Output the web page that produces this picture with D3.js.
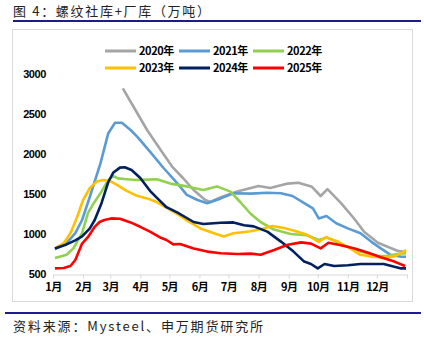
<!DOCTYPE html>
<html>
<head>
<meta charset="utf-8">
<script src="https://cdn.jsdelivr.net/npm/d3@7"></script>
<style>
  body { margin: 0; background: #fff; }
  svg { display: block; }
</style>
</head>
<body>
<svg width="424" height="337"></svg>
<script>
// weekly readings, dates as month-day
const dates2020 = ["03-14","03-27","04-08","04-22","05-04","05-15","05-26","06-07","06-12","06-23","07-10","07-24","08-01","08-13","08-31","09-11","09-25","10-04","10-11","10-25","11-07","11-18","12-02","12-12","12-22","12-31"];
const vals2020 = [2820,2550,2300,2050,1840,1700,1550,1425,1400,1460,1530,1575,1600,1575,1630,1640,1590,1475,1560,1385,1200,1025,890,840,790,775];

const dates2021 = ["01-03","01-15","01-24","01-31","02-08","02-19","02-27","03-06","03-13","03-22","03-29","04-11","04-25","05-09","05-19","05-30","06-09","06-23","07-06","07-24","08-10","08-24","09-05","09-17","09-26","10-02","10-10","10-20","11-01","11-14","11-25","12-05","12-15","12-26","12-31"];
const vals2021 = [810,885,1010,1175,1466,1885,2260,2390,2390,2300,2215,2030,1825,1635,1490,1425,1385,1445,1510,1505,1515,1510,1475,1385,1320,1195,1225,1135,1070,1010,905,820,740,715,715];

const dates2022 = ["01-03","01-15","01-22","01-31","02-06","02-12","02-20","02-27","03-04","03-09","03-18","03-28","04-08","04-18","05-02","05-19","06-05","06-19","07-03","07-13","07-24","08-03","08-16","09-03","09-20","10-02","10-11","10-28","11-14","12-02","12-12","12-22","12-31"];
const vals2022 = [700,740,820,1010,1260,1385,1530,1675,1725,1695,1685,1675,1680,1685,1630,1595,1550,1595,1530,1400,1250,1150,1060,1000,985,925,955,860,780,725,725,750,760];

const dates2023 = ["01-03","01-12","01-19","01-26","02-01","02-08","02-15","02-22","03-01","03-08","03-18","03-28","04-08","04-16","04-28","05-09","05-19","06-02","06-16","06-26","07-06","07-24","08-06","08-15","08-27","09-06","09-20","10-02","10-09","10-21","11-02","11-14","11-25","12-08","12-19","12-29","12-31"];
const vals2023 = [820,885,1010,1215,1425,1575,1655,1675,1660,1615,1540,1480,1445,1410,1330,1250,1170,1070,1010,970,1010,1035,1070,1100,1075,1045,990,900,960,910,830,740,720,705,720,780,800];

const dates2024 = ["01-03","01-15","01-24","01-31","02-08","02-13","02-20","02-27","03-04","03-11","03-16","03-23","04-01","04-11","04-20","04-28","05-09","05-26","06-05","06-23","07-06","07-17","07-27","08-10","08-24","09-06","09-17","09-24","10-01","10-08","10-18","11-01","11-14","11-28","12-08","12-19","12-26","12-31"];
const vals2024 = [820,870,920,970,1070,1175,1385,1650,1765,1830,1835,1800,1700,1540,1430,1335,1270,1150,1125,1140,1145,1110,1095,1030,905,780,655,625,570,625,600,610,625,625,625,590,570,570];

const dates2025 = ["01-03","01-12","01-19","01-24","01-31","02-06","02-13","02-18","02-23","03-02","03-11","03-22","04-01","04-11","04-21","04-28","05-05","05-12","05-26","06-09","06-23","07-10","07-24","08-03","08-17","08-31","09-14","09-24","10-04","10-12","10-25","11-08","11-22","12-05","12-19","12-30"];
const vals2025 = [570,575,600,675,880,960,1090,1150,1175,1195,1190,1145,1090,1030,960,925,870,875,820,780,760,750,755,740,800,865,895,880,820,890,860,820,765,710,655,600];

const years = ["2020年","2021年","2022年","2023年","2024年","2025年"];
const colors = ["#a5a5a5","#5b9bd5","#92d050","#ffc000","#002060","#ff0000"];
const allDates = [dates2020, dates2021, dates2022, dates2023, dates2024, dates2025];
const allVals = [vals2020, vals2021, vals2022, vals2023, vals2024, vals2025];

const yTicks = [500, 1000, 1500, 2000, 2500, 3000];

const parse = d3.timeParse("%Y-%m-%d");
const md = s => parse("2021-" + s);

const svg = d3.select("svg");

// title + rules
svg.append("text")
   .attr("x", 13).attr("y", 16)
   .attr("textLength", 197).attr("lengthAdjust", "spacing")
   .style("font-family", "'Noto Sans CJK SC', sans-serif")
   .style("font-size", "13px")
   .style("fill", "#222")
   .text("图 4：螺纹社库+厂库（万吨）");

svg.append("line")
   .attr("x1", 13).attr("x2", 421).attr("y1", 21).attr("y2", 21)
   .attr("stroke", "#1c1c8f").attr("stroke-width", 2);

svg.append("rect")
   .attr("x", 12.5).attr("y", 29.5).attr("width", 400).attr("height", 272)
   .attr("fill", "none").attr("stroke", "#d9d9d9");

svg.append("line")
   .attr("x1", 5).attr("x2", 421).attr("y1", 313).attr("y2", 313)
   .attr("stroke", "#1c1c8f").attr("stroke-width", 2);

svg.append("text")
   .attr("x", 13).attr("y", 331)
   .attr("textLength", 250).attr("lengthAdjust", "spacing")
   .style("font-family", "'Noto Sans CJK SC', sans-serif")
   .style("font-size", "13px")
   .style("fill", "#222")
   .text("资料来源：Mysteel、申万期货研究所");

// scales
const x = d3.scaleTime()
            .domain([parse("2021-01-01"), parse("2022-01-01")])
            .range([53, 407]);

const y = d3.scaleLinear()
            .domain([500, 3000])
            .range([274, 74]);

const yAxis = svg.append("g")
   .attr("transform", "translate(48, 0)")
   .call(d3.axisLeft(y).tickValues(yTicks).tickSize(0).tickPadding(2).tickFormat(d3.format("d")));
yAxis.select(".domain").remove();
yAxis.selectAll("text")
     .style("font-family", "'Liberation Sans', Arial, sans-serif")
     .style("font-size", "11px")
     .style("font-weight", "bold")
     .style("letter-spacing", "-0.4px")
     .style("fill", "#000");

const monthTicks = d3.timeMonth.range(parse("2021-01-01"), parse("2022-01-02"));
const xAxis = svg.append("g")
   .attr("transform", "translate(0, 274.5)")
   .call(d3.axisBottom(x)
           .tickValues(monthTicks)
           .tickSizeInner(4).tickSizeOuter(0).tickPadding(5)
           .tickFormat(d => d.getFullYear() === 2022 ? "" : (d.getMonth() + 1) + "月"));
xAxis.select(".domain").attr("stroke", "#d9d9d9");
xAxis.selectAll(".tick line").attr("stroke", "#d9d9d9");
xAxis.selectAll("text")
     .style("font-family", "'Noto Sans CJK SC', sans-serif")
     .style("font-size", "11px")
     .style("font-weight", "bold")
     .style("letter-spacing", "-0.5px")
     .style("fill", "#000");

// lines
const line = d3.line()
               .x(d => x(d[0]))
               .y(d => y(d[1]));

years.forEach((yr, i) => {
  const pts = allDates[i].map((d, j) => [md(d), allVals[i][j]]);
  svg.append("path")
     .datum(pts)
     .attr("fill", "none")
     .attr("stroke", colors[i])
     .attr("stroke-width", 2.6)
     .attr("stroke-linejoin", "round")
     .attr("d", line);
});

// legend
const legX = [105, 179, 253];
const legY = [51, 68];
years.forEach((yr, i) => {
  const lx = legX[i % 3];
  const ly = legY[Math.floor(i / 3)];
  svg.append("line")
     .attr("x1", lx).attr("x2", lx + 31)
     .attr("y1", ly).attr("y2", ly)
     .attr("stroke", colors[i]).attr("stroke-width", 3);
  svg.append("text")
     .attr("x", lx + 34).attr("y", ly + 4)
     .style("font-family", "'Noto Sans CJK SC', sans-serif")
     .style("font-size", "11px")
     .style("font-weight", "bold")
     .style("letter-spacing", "-0.4px")
     .style("fill", "#000")
     .text(yr);
});
</script>
</body>
</html>
